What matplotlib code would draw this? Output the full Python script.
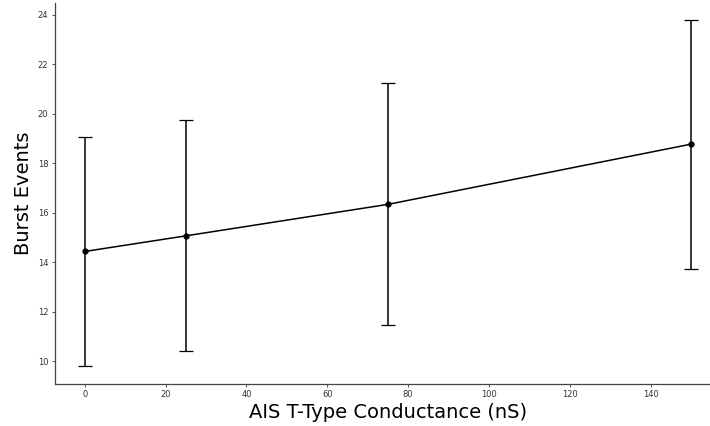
import numpy as np
import matplotlib
matplotlib.use("Agg")
import matplotlib.pyplot as plt

# AIS T-type conductance vs burst events
conductance = np.array([0, 25, 75, 150])
burst_mean = np.array([14.44, 15.07, 16.34, 18.77])
burst_err = np.array([4.63, 4.66, 4.88, 5.03])

fig = plt.figure(figsize=(7.1, 4.26), dpi=100)
ax = fig.add_axes([0.0768, 0.0986, 0.939, 0.895])

ax.errorbar(conductance, burst_mean, yerr=burst_err, color='black', marker='o',
            markersize=3.5, linewidth=1.1, elinewidth=1.1, capsize=4.7, capthick=0.9)

ax.set_xlim(-7.5, 157.5)
ax.set_ylim(9.09, 24.48)
ax.set_xticks([0, 20, 40, 60, 80, 100, 120, 140])
ax.set_yticks([10, 12, 14, 16, 18, 20, 22, 24])

ax.spines['top'].set_visible(False)
ax.spines['right'].set_visible(False)
for s in ['left', 'bottom']:
    ax.spines[s].set_color('#444444')
    ax.spines[s].set_linewidth(0.9)
ax.tick_params(labelsize=6, colors='#333333', length=2.5, width=0.6, pad=2)

ax.set_xlabel('AIS T-Type Conductance (nS)', fontsize=14, labelpad=3)
ax.set_ylabel('Burst Events', fontsize=14, labelpad=3)

plt.savefig("out.png", dpi=100)
